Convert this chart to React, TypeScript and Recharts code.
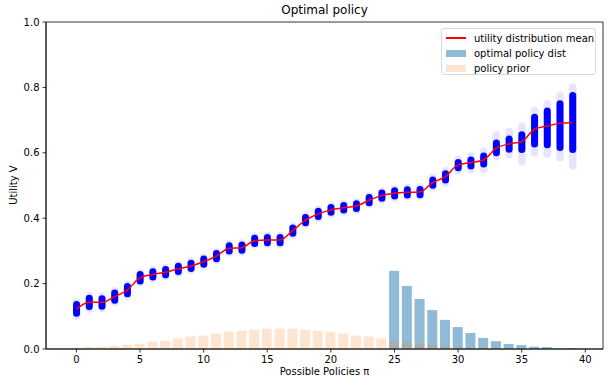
import React from 'react';
import {
    ComposedChart,
    Bar,
    Line,
    XAxis,
    YAxis,
    ReferenceArea,
} from 'recharts';

// policy index on the x axis
const policies = [
    0, 1, 2, 3, 4, 5, 6, 7, 8, 9, 10, 11, 12, 13, 14, 15, 16, 17, 18, 19,
    20, 21, 22, 23, 24, 25, 26, 27, 28, 29, 30, 31, 32, 33, 34, 35, 36, 37, 38, 39,
];

// red line: mean of the utility samples per policy
const meanUtility = [
    0.122, 0.143, 0.143, 0.16, 0.18, 0.218, 0.228, 0.235, 0.245, 0.254,
    0.267, 0.284, 0.308, 0.31, 0.331, 0.333, 0.333, 0.362, 0.394, 0.413,
    0.425, 0.432, 0.437, 0.455, 0.469, 0.476, 0.479, 0.48, 0.509, 0.527,
    0.563, 0.57, 0.578, 0.614, 0.627, 0.634, 0.672, 0.682, 0.69, 0.693,
];

// dense part of the blue sample cloud
const coreLow = [
    0.109, 0.13, 0.131, 0.149, 0.169, 0.208, 0.22, 0.227, 0.237, 0.246,
    0.259, 0.276, 0.3, 0.302, 0.323, 0.325, 0.325, 0.354, 0.386, 0.405,
    0.418, 0.425, 0.43, 0.447, 0.461, 0.468, 0.471, 0.472, 0.501, 0.517,
    0.554, 0.56, 0.566, 0.6, 0.611, 0.61, 0.627, 0.625, 0.616, 0.61,
];
const coreHigh = [
    0.136, 0.155, 0.154, 0.171, 0.191, 0.228, 0.236, 0.243, 0.253, 0.262,
    0.275, 0.292, 0.316, 0.318, 0.339, 0.341, 0.341, 0.37, 0.402, 0.421,
    0.433, 0.439, 0.444, 0.463, 0.477, 0.484, 0.487, 0.488, 0.517, 0.536,
    0.57, 0.578, 0.59, 0.63, 0.642, 0.655, 0.709, 0.728, 0.75, 0.775,
];

// faint outer samples
const haloLow = [
    0.1, 0.122, 0.124, 0.142, 0.162, 0.202, 0.214, 0.221, 0.231, 0.24,
    0.253, 0.27, 0.294, 0.296, 0.317, 0.319, 0.319, 0.348, 0.38, 0.399,
    0.412, 0.419, 0.424, 0.441, 0.455, 0.462, 0.465, 0.466, 0.494, 0.508,
    0.545, 0.548, 0.55, 0.588, 0.595, 0.573, 0.6, 0.596, 0.585, 0.56,
];
const haloHigh = [
    0.145, 0.163, 0.161, 0.178, 0.198, 0.234, 0.242, 0.249, 0.259, 0.268,
    0.281, 0.298, 0.322, 0.324, 0.345, 0.347, 0.347, 0.376, 0.408, 0.427,
    0.439, 0.445, 0.45, 0.469, 0.483, 0.49, 0.494, 0.495, 0.524, 0.545,
    0.58, 0.59, 0.605, 0.655, 0.665, 0.68, 0.73, 0.75, 0.775, 0.8,
];

const optimalDist = [
    0, 0, 0, 0, 0, 0, 0, 0, 0, 0,
    0, 0, 0, 0, 0, 0, 0, 0, 0, 0,
    0, 0, 0, 0, 0, 0.239, 0.193, 0.153, 0.119, 0.089,
    0.067, 0.049, 0.034, 0.024, 0.015, 0.012, 0.007, 0.006, 0.003, 0.003,
];

const policyPrior = [
    0.004, 0.007, 0.007, 0.01, 0.013, 0.016, 0.022, 0.025, 0.032, 0.038,
    0.041, 0.047, 0.053, 0.056, 0.059, 0.062, 0.062, 0.062, 0.059, 0.056,
    0.053, 0.047, 0.041, 0.038, 0.032, 0.025, 0.022, 0.016, 0.013, 0.01,
    0.006, 0.006, 0.004, 0.004, 0.002, 0.002, 0.001, 0.001, 0.001, 0.001,
];

const xTicks = [0, 5, 10, 15, 20, 25, 30, 35, 40];
const yTicks = [0, 0.2, 0.4, 0.6, 0.8, 1.0];

const X_DOMAIN: [number, number] = [-2.39, 41.39];
const FONT = '"DejaVu Sans", sans-serif';

const data = policies.map((p, i) => ({
    policy: p,
    mean: meanUtility[i],
    optimal: optimalDist[i],
    prior: policyPrior[i],
    core: [coreLow[i], coreHigh[i]],
    halo: [haloLow[i], haloHigh[i]],
}));

// rounded vertical pill, looks like a stack of overlapping scatter dots
const pill = (r: number, opacity: number) => (props: any) => {
    const { x, y, width, height } = props;
    if (x == null || y == null) return <g />;
    const top = Math.min(y, y + height);
    const h = Math.abs(height);
    const cx = x + width / 2;
    return (
        <rect
            x={cx - r}
            y={top - r}
            width={2 * r}
            height={h + 2 * r}
            rx={r}
            fill="#0000ff"
            fillOpacity={opacity}
        />
    );
};

const tickStyle = { fill: '#000', fontSize: 10, fontFamily: FONT };

const legendItems = [
    { label: 'utility distribution mean', kind: 'line', color: '#ff0000' },
    { label: 'optimal policy dist', kind: 'patch', color: '#8fbbd9' },
    { label: 'policy prior', kind: 'patch', color: '#ffe5cf' },
];

// extra hidden x axes so each bar series sits centred on its policy
const hiddenAxis = (id: string) => (
    <XAxis
        xAxisId={id}
        type="number"
        dataKey="policy"
        domain={X_DOMAIN}
        allowDataOverflow
        orientation="top"
        height={0}
        hide
    />
);

const App = () => {
    return (
        <div
            style={{
                position: 'fixed',
                left: 0,
                top: 0,
                width: 609,
                height: 387,
                background: '#fff',
                fontFamily: FONT,
            }}
        >
            <ComposedChart
                width={609}
                height={387}
                data={data}
                margin={{ top: 22, right: 6, bottom: 0, left: 12 }}
            >
                <XAxis
                    xAxisId="x"
                    type="number"
                    dataKey="policy"
                    domain={X_DOMAIN}
                    ticks={xTicks}
                    allowDataOverflow
                    height={38}
                    tickSize={3.5}
                    tickMargin={3}
                    tick={tickStyle}
                    stroke="#000"
                    strokeWidth={0.8}
                />
                {hiddenAxis('opt')}
                {hiddenAxis('prior')}
                {hiddenAxis('halo')}
                {hiddenAxis('core')}
                <YAxis
                    yAxisId="y"
                    type="number"
                    domain={[0, 1]}
                    ticks={yTicks}
                    allowDataOverflow
                    width={34}
                    tickSize={3.5}
                    tickMargin={3}
                    tick={tickStyle}
                    tickFormatter={(v: number) => v.toFixed(1)}
                    stroke="#000"
                    strokeWidth={0.8}
                />

                <Bar
                    xAxisId="opt"
                    yAxisId="y"
                    dataKey="optimal"
                    fill="#1f77b4"
                    fillOpacity={0.5}
                    barSize={10}
                    isAnimationActive={false}
                />
                <Bar
                    xAxisId="prior"
                    yAxisId="y"
                    dataKey="prior"
                    fill="#ff7f0e"
                    fillOpacity={0.2}
                    barSize={10}
                    isAnimationActive={false}
                />
                <Bar
                    xAxisId="halo"
                    yAxisId="y"
                    dataKey="halo"
                    barSize={7}
                    shape={pill(3.8, 0.1)}
                    isAnimationActive={false}
                />
                <Bar
                    xAxisId="core"
                    yAxisId="y"
                    dataKey="core"
                    barSize={7}
                    shape={pill(3.5, 1)}
                    isAnimationActive={false}
                />
                <Line
                    xAxisId="x"
                    yAxisId="y"
                    type="monotone"
                    dataKey="mean"
                    stroke="#ff0000"
                    strokeWidth={1.5}
                    dot={false}
                    isAnimationActive={false}
                />
                <ReferenceArea
                    xAxisId="x"
                    yAxisId="y"
                    x1={X_DOMAIN[0]}
                    x2={X_DOMAIN[1]}
                    y1={0}
                    y2={1}
                    fill="none"
                    stroke="#000"
                    strokeWidth={0.8}
                    ifOverflow="visible"
                />
            </ComposedChart>

            {/* title and axis labels */}
            <div
                style={{
                    position: 'absolute',
                    left: 46,
                    width: 557,
                    top: 3,
                    textAlign: 'center',
                    fontSize: 12,
                    color: '#000',
                }}
            >
                Optimal policy
            </div>
            <div
                style={{
                    position: 'absolute',
                    left: 46,
                    width: 557,
                    top: 366,
                    textAlign: 'center',
                    fontSize: 10,
                    color: '#000',
                }}
            >
                Possible Policies π
            </div>
            <div
                style={{
                    position: 'absolute',
                    left: 13,
                    top: 185,
                    transform: 'translate(-50%, -50%) rotate(-90deg)',
                    fontSize: 10,
                    color: '#000',
                    whiteSpace: 'nowrap',
                }}
            >
                Utility V
            </div>

            {/* legend */}
            <div
                style={{
                    position: 'absolute',
                    left: 441,
                    top: 28,
                    width: 155,
                    height: 47,
                    border: '1px solid #d9d9d9',
                    borderRadius: 3,
                    background: 'rgba(255,255,255,0.8)',
                    boxSizing: 'border-box',
                }}
            >
                {legendItems.map((item, i) => (
                    <div
                        key={item.label}
                        style={{
                            position: 'absolute',
                            left: 4,
                            top: 2 + i * 15,
                            height: 14,
                            display: 'flex',
                            alignItems: 'center',
                            fontSize: 10,
                            color: '#000',
                            whiteSpace: 'nowrap',
                        }}
                    >
                        {item.kind === 'line' ? (
                            <div style={{ width: 20, height: 1.5, background: item.color }} />
                        ) : (
                            <div style={{ width: 20, height: 7, background: item.color }} />
                        )}
                        <span style={{ marginLeft: 8 }}>{item.label}</span>
                    </div>
                ))}
            </div>
        </div>
    );
};

export default App;
